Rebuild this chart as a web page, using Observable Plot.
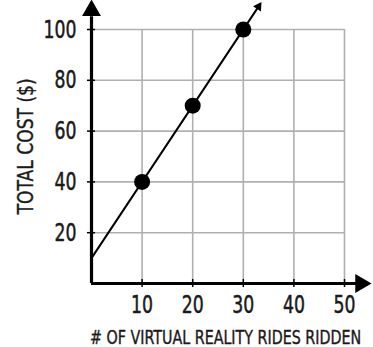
<!DOCTYPE html>
<html><head><meta charset="utf-8">
<script src="https://cdn.jsdelivr.net/npm/d3@7"></script>
<script src="https://cdn.jsdelivr.net/npm/@observablehq/plot@0.6"></script>
<style>body{margin:0;background:#fff}</style>
</head><body><div id="chart"></div>
<script>
const rides = [10, 20, 30];
const cost = [40, 70, 100];
const xTicks = [10, 20, 30, 40, 50];
const yTicks = [20, 40, 60, 80, 100];
const lineX = [0, 33];
const lineY = [10, 109];
const xLabel = "# OF VIRTUAL REALITY RIDES RIDDEN";
const yLabel = "TOTAL COST ($)";

const points = rides.map((r, i) => ({x: r, y: cost[i]}));
const lineData = lineX.map((x, i) => ({x, y: lineY[i]}));
const font = "'DejaVu Sans Condensed','DejaVu Sans',sans-serif";

const W = 373, H = 347, mL = 91, mR = 29, mT = 29, mB = 64;
const pxPerX = (W - mL - mR) / 50, pxPerY = (H - mT - mB) / 100;
const slopeAngle = Math.atan2(3 * pxPerY, pxPerX);
const rotLine = 90 - slopeAngle * 180 / Math.PI;

const txt = {fill: "#1a1a1a", stroke: "#1a1a1a", strokeWidth: 0.5};
const chart = Plot.plot({
  width: W, height: H,
  marginLeft: mL, marginRight: mR, marginTop: mT, marginBottom: mB,
  x: {domain: [0, 50], axis: null},
  y: {domain: [0, 100], axis: null},
  style: {fontFamily: font, background: "#fff", fontStretch: "condensed"},
  marks: [
    Plot.ruleX(xTicks, {y1: 0, y2: 100, stroke: "#b0b0b0", strokeWidth: 1.6}),
    Plot.ruleY(yTicks, {x1: 0, x2: 50, stroke: "#b0b0b0", strokeWidth: 1.6}),
    Plot.ruleX(xTicks, {y1: -1.6, y2: 1.6, stroke: "#000", strokeWidth: 1.5}),
    Plot.ruleY(yTicks, {x1: -0.8, x2: 0.8, stroke: "#000", strokeWidth: 1.5}),
    Plot.ruleY([0], {x1: 0, x2: 52.5, stroke: "#000", strokeWidth: 3.2}),
    Plot.ruleX([0], {y1: 0, y2: 105, stroke: "#000", strokeWidth: 3.2}),
    Plot.dot([{x: 53.2, y: 0}], {x: "x", y: "y", symbol: "triangle", r: 7, fill: "#000", stroke: null, rotate: 90}),
    Plot.dot([{x: 0, y: 107.5}], {x: "x", y: "y", symbol: "triangle", r: 7, fill: "#000", stroke: null, rotate: 0}),
    Plot.line(lineData, {x: "x", y: "y", stroke: "#000", strokeWidth: 2}),
    Plot.dot(lineData.slice(1), {x: "x", y: "y", symbol: "triangle", r: 3.5, fill: "#000", stroke: null, rotate: rotLine}),
    Plot.dot(points, {x: "x", y: "y", r: 8, fill: "#000"}),
    Plot.text(xTicks, {x: d => d, y: 0, text: d => String(d), dy: 21, fontSize: 25, ...txt, lineAnchor: "middle"}),
    Plot.text(yTicks, {x: 0, y: d => d, text: d => String(d), dx: -15, fontSize: 25, ...txt, textAnchor: "end", lineAnchor: "middle"}),
    Plot.text([xLabel], {x: 26.5, y: 0, text: d => d, dy: 54, fontSize: 19.5, ...txt, strokeWidth: 0.4, lineAnchor: "middle"}),
    Plot.text([yLabel], {x: 0, y: 54, text: d => d, dx: -66, fontSize: 22, ...txt, strokeWidth: 0.4, rotate: -90, lineAnchor: "middle"})
  ]
});
const widths = {[xLabel]: 271, [yLabel]: 136, "100": 33};
chart.querySelectorAll("text").forEach(t => {
  const s = t.textContent;
  const w = widths[s] ?? (/^\d\d$/.test(s) ? 22 : null);
  if (w) { t.setAttribute("textLength", w); t.setAttribute("lengthAdjust", "spacingAndGlyphs"); }
});
document.getElementById("chart").appendChild(chart);
</script></body></html>
